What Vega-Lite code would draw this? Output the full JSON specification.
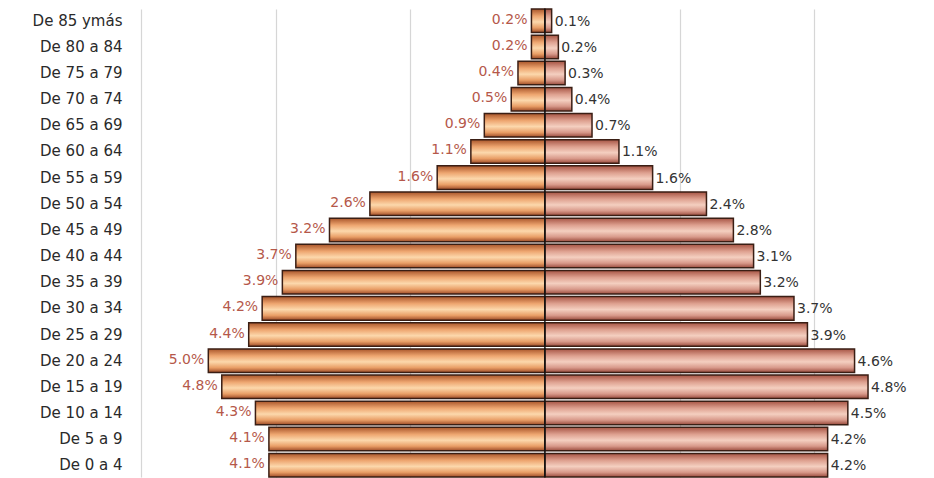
{
  "$schema": "https://vega.github.io/schema/vega-lite/v6.json",
  "width": 934,
  "height": 478,
  "autosize": {"type": "fit", "contains": "padding"},
  "padding": {"left": 32, "top": 8, "right": 0, "bottom": 0},
  "background": "white",
  "config": {"view": {"stroke": null}, "font": "DejaVu Sans"},
  "data": {
    "values": [
      {"grupo": "De 85 ymás", "lado": "izq", "valor": -0.2, "etiqueta": "0.2%"},
      {"grupo": "De 80 a 84", "lado": "izq", "valor": -0.2, "etiqueta": "0.2%"},
      {"grupo": "De 75 a 79", "lado": "izq", "valor": -0.4, "etiqueta": "0.4%"},
      {"grupo": "De 70 a 74", "lado": "izq", "valor": -0.5, "etiqueta": "0.5%"},
      {"grupo": "De 65 a 69", "lado": "izq", "valor": -0.9, "etiqueta": "0.9%"},
      {"grupo": "De 60 a 64", "lado": "izq", "valor": -1.1, "etiqueta": "1.1%"},
      {"grupo": "De 55 a 59", "lado": "izq", "valor": -1.6, "etiqueta": "1.6%"},
      {"grupo": "De 50 a 54", "lado": "izq", "valor": -2.6, "etiqueta": "2.6%"},
      {"grupo": "De 45 a 49", "lado": "izq", "valor": -3.2, "etiqueta": "3.2%"},
      {"grupo": "De 40 a 44", "lado": "izq", "valor": -3.7, "etiqueta": "3.7%"},
      {"grupo": "De 35 a 39", "lado": "izq", "valor": -3.9, "etiqueta": "3.9%"},
      {"grupo": "De 30 a 34", "lado": "izq", "valor": -4.2, "etiqueta": "4.2%"},
      {"grupo": "De 25 a 29", "lado": "izq", "valor": -4.4, "etiqueta": "4.4%"},
      {"grupo": "De 20 a 24", "lado": "izq", "valor": -5.0, "etiqueta": "5.0%"},
      {"grupo": "De 15 a 19", "lado": "izq", "valor": -4.8, "etiqueta": "4.8%"},
      {"grupo": "De 10 a 14", "lado": "izq", "valor": -4.3, "etiqueta": "4.3%"},
      {"grupo": "De 5 a 9", "lado": "izq", "valor": -4.1, "etiqueta": "4.1%"},
      {"grupo": "De 0 a 4", "lado": "izq", "valor": -4.1, "etiqueta": "4.1%"},
      {"grupo": "De 85 ymás", "lado": "der", "valor": 0.1, "etiqueta": "0.1%"},
      {"grupo": "De 80 a 84", "lado": "der", "valor": 0.2, "etiqueta": "0.2%"},
      {"grupo": "De 75 a 79", "lado": "der", "valor": 0.3, "etiqueta": "0.3%"},
      {"grupo": "De 70 a 74", "lado": "der", "valor": 0.4, "etiqueta": "0.4%"},
      {"grupo": "De 65 a 69", "lado": "der", "valor": 0.7, "etiqueta": "0.7%"},
      {"grupo": "De 60 a 64", "lado": "der", "valor": 1.1, "etiqueta": "1.1%"},
      {"grupo": "De 55 a 59", "lado": "der", "valor": 1.6, "etiqueta": "1.6%"},
      {"grupo": "De 50 a 54", "lado": "der", "valor": 2.4, "etiqueta": "2.4%"},
      {"grupo": "De 45 a 49", "lado": "der", "valor": 2.8, "etiqueta": "2.8%"},
      {"grupo": "De 40 a 44", "lado": "der", "valor": 3.1, "etiqueta": "3.1%"},
      {"grupo": "De 35 a 39", "lado": "der", "valor": 3.2, "etiqueta": "3.2%"},
      {"grupo": "De 30 a 34", "lado": "der", "valor": 3.7, "etiqueta": "3.7%"},
      {"grupo": "De 25 a 29", "lado": "der", "valor": 3.9, "etiqueta": "3.9%"},
      {"grupo": "De 20 a 24", "lado": "der", "valor": 4.6, "etiqueta": "4.6%"},
      {"grupo": "De 15 a 19", "lado": "der", "valor": 4.8, "etiqueta": "4.8%"},
      {"grupo": "De 10 a 14", "lado": "der", "valor": 4.5, "etiqueta": "4.5%"},
      {"grupo": "De 5 a 9", "lado": "der", "valor": 4.2, "etiqueta": "4.2%"},
      {"grupo": "De 0 a 4", "lado": "der", "valor": 4.2, "etiqueta": "4.2%"}
    ]
  },
  "encoding": {
    "y": {
      "field": "grupo",
      "type": "nominal",
      "sort": null,
      "title": null,
      "scale": {"paddingInner": 0.1, "paddingOuter": 0},
      "axis": {
        "ticks": false,
        "domain": false,
        "labelPadding": 19,
        "labelFontSize": 15,
        "labelFont": "DejaVu Sans",
        "labelColor": "#2a2a2a"
      }
    },
    "x": {
      "field": "valor",
      "type": "quantitative",
      "title": null,
      "scale": {"domain": [-6, 5.78], "nice": false},
      "axis": {
        "values": [-6, -4, -2, 2, 4],
        "grid": true,
        "gridColor": "#d6d6d6",
        "gridWidth": 1.2,
        "labels": false,
        "ticks": false,
        "domain": false
      }
    }
  },
  "layer": [
    {
      "transform": [{"filter": "datum.lado === 'izq'"}],
      "mark": {
        "type": "bar",
        "stroke": "#3a1e14",
        "strokeWidth": 1.5,
        "fill": {
          "gradient": "linear",
          "x1": 0, "y1": 0, "x2": 0, "y2": 1,
          "stops": [
            {"offset": 0, "color": "#a9552a"},
            {"offset": 0.3, "color": "#eea670"},
            {"offset": 0.55, "color": "#fcd8ac"},
            {"offset": 0.8, "color": "#e99e66"},
            {"offset": 1, "color": "#9c4a26"}
          ]
        }
      }
    },
    {
      "transform": [{"filter": "datum.lado === 'der'"}],
      "mark": {
        "type": "bar",
        "stroke": "#3a1e14",
        "strokeWidth": 1.5,
        "fill": {
          "gradient": "linear",
          "x1": 0, "y1": 0, "x2": 0, "y2": 1,
          "stops": [
            {"offset": 0, "color": "#a65444"},
            {"offset": 0.3, "color": "#dea190"},
            {"offset": 0.55, "color": "#f4cfc0"},
            {"offset": 0.8, "color": "#d8998a"},
            {"offset": 1, "color": "#984a3c"}
          ]
        }
      }
    },
    {
      "transform": [{"filter": "datum.lado === 'izq'"}],
      "mark": {"type": "text", "align": "right", "baseline": "middle", "dx": -4, "dy": -1, "fontSize": 14, "font": "DejaVu Sans", "color": "#b5584a"},
      "encoding": {"text": {"field": "etiqueta"}}
    },
    {
      "transform": [{"filter": "datum.lado === 'der'"}],
      "mark": {"type": "text", "align": "left", "baseline": "middle", "dx": 3, "dy": 1, "fontSize": 14, "font": "DejaVu Sans", "color": "#333333"},
      "encoding": {"text": {"field": "etiqueta"}}
    },
    {
      "data": {"values": [{"valor": 0}]},
      "mark": {"type": "rule", "color": "#111111", "strokeWidth": 1.5},
      "encoding": {"x": {"field": "valor", "type": "quantitative"}, "y": null}
    }
  ]
}
